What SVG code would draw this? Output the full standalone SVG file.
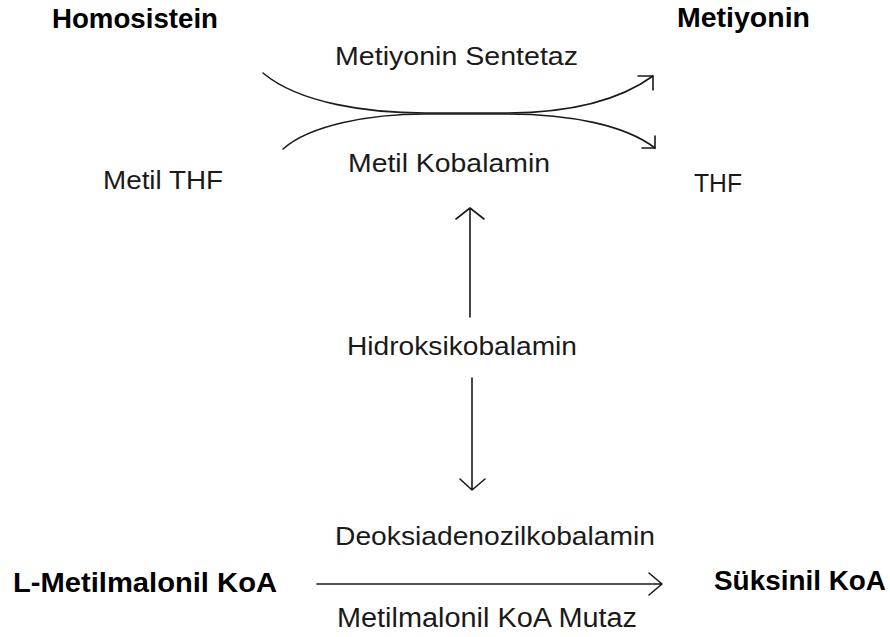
<svg xmlns="http://www.w3.org/2000/svg" width="890" height="637" viewBox="0 0 890 637">
<style>
text{font-family:"Liberation Sans",Arial,sans-serif;fill:#1a1a1a}
.b{font-weight:bold;font-size:27px;fill:#000}
.r{font-size:25px}
.c{fill:none;stroke:#1a1a1a;stroke-width:1.6;stroke-linecap:round;stroke-linejoin:round}
</style>
<rect width="890" height="637" fill="#fff"/>
<g id="homosistein"><text class="b" x="52" y="28" textLength="166" lengthAdjust="spacingAndGlyphs">Homosistein</text></g>
<g id="metiyonin"><text class="b" x="677" y="27" textLength="133" lengthAdjust="spacingAndGlyphs">Metiyonin</text></g>
<g id="metiyonin-sentetaz"><text class="r" x="335" y="65" textLength="243" lengthAdjust="spacingAndGlyphs">Metiyonin Sentetaz</text></g>
<g id="metil-kobalamin"><text class="r" x="348" y="172" style="font-size:26px" textLength="202" lengthAdjust="spacingAndGlyphs">Metil Kobalamin</text></g>
<g id="metil-thf"><text class="r" x="103" y="189" textLength="120" lengthAdjust="spacingAndGlyphs">Metil THF</text></g>
<g id="thf"><text class="r" x="694" y="192" style="font-size:26px" textLength="48" lengthAdjust="spacingAndGlyphs">THF</text></g>
<g id="hidroksikobalamin"><text class="r" x="347" y="355" textLength="230" lengthAdjust="spacingAndGlyphs">Hidroksikobalamin</text></g>
<g id="deoksiadenozilkobalamin"><text class="r" x="335" y="545" textLength="320" lengthAdjust="spacingAndGlyphs">Deoksiadenozilkobalamin</text></g>
<g id="l-metilmalonil-koa"><text class="b" x="13" y="592" textLength="264" lengthAdjust="spacingAndGlyphs">L-Metilmalonil KoA</text></g>
<g id="suksinil-koa"><text class="b" x="714" y="590" textLength="172" lengthAdjust="spacingAndGlyphs">Süksinil KoA</text></g>
<g id="metilmalonil-koa-mutaz"><text class="r" x="337" y="627" style="font-size:27px" textLength="300" lengthAdjust="spacingAndGlyphs">Metilmalonil KoA Mutaz</text></g>
<g id="connectors">
<path class="c" d="M263,73 C300,104 370,113 425,113 L505,113 C570,113 620,100 653,76"/>
<path class="c" d="M638,76 L653,76 L653,90"/>
<path class="c" d="M283,149 C310,125 370,114 425,114 L505,114 C570,114 625,125 655,148"/>
<path class="c" d="M655,136 L655,148 L642,148"/>
<path class="c" d="M470,317 L470,208 M456,219 L470,208 L484,219"/>
<path class="c" d="M472,378 L472,490 M460,479 L472,490 L485,479"/>
<path class="c" d="M317,584 L662,584 M649,573 L662,584 L649,595"/>
</g>
</svg>
